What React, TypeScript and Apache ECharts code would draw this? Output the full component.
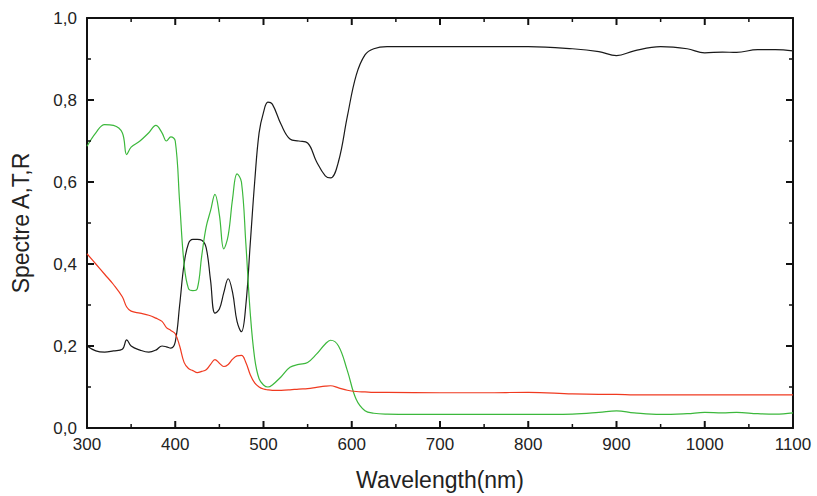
import React, { useEffect, useRef } from "react";
import * as echarts from "echarts";

const wavelengths = [300, 310, 320, 330, 340, 345, 350, 360, 370, 378, 385, 390, 395, 400, 405, 410, 415, 420, 425, 430, 435, 440, 445, 450, 455, 460, 465, 470, 475, 480, 485, 490, 495, 500, 505, 510, 520, 530, 540, 550, 560, 570, 576, 585, 595, 605, 615, 625, 640, 700, 750, 800, 850, 880, 900, 920, 950, 980, 1000, 1020, 1036, 1060, 1080, 1100];

const black = [0.2, 0.188, 0.185, 0.188, 0.192, 0.215, 0.2, 0.19, 0.185, 0.19, 0.2, 0.198, 0.195, 0.21, 0.3, 0.4, 0.45, 0.46, 0.46, 0.458, 0.44, 0.36, 0.28, 0.29, 0.33, 0.364, 0.33, 0.26, 0.235, 0.3, 0.45, 0.6, 0.72, 0.77, 0.795, 0.79, 0.74, 0.705, 0.7, 0.695, 0.65, 0.615, 0.61, 0.65, 0.76, 0.86, 0.91, 0.925, 0.93, 0.93, 0.93, 0.93, 0.925, 0.918, 0.908, 0.92, 0.93, 0.925, 0.915, 0.917, 0.916, 0.923, 0.923, 0.92];

const green = [0.687, 0.72, 0.74, 0.738, 0.72, 0.667, 0.685, 0.7, 0.72, 0.738, 0.72, 0.7, 0.71, 0.7, 0.55, 0.4, 0.34, 0.335, 0.34, 0.42, 0.49, 0.53, 0.57, 0.52, 0.437, 0.47, 0.56, 0.62, 0.6, 0.45, 0.28, 0.17, 0.12, 0.105, 0.1, 0.105, 0.125, 0.148, 0.155, 0.16, 0.18, 0.205, 0.214, 0.2, 0.14, 0.07, 0.042, 0.036, 0.034, 0.033, 0.033, 0.033, 0.034, 0.038, 0.042, 0.037, 0.033, 0.035, 0.038, 0.037, 0.038, 0.035, 0.034, 0.037];

const red = [0.425, 0.4, 0.375, 0.35, 0.32, 0.295, 0.285, 0.28, 0.275, 0.268, 0.26, 0.245, 0.238, 0.23, 0.2, 0.16, 0.145, 0.14, 0.135, 0.138, 0.142, 0.155, 0.167, 0.158, 0.15, 0.155, 0.168, 0.176, 0.177, 0.16, 0.13, 0.11, 0.1, 0.095, 0.093, 0.092, 0.092, 0.093, 0.095, 0.096, 0.099, 0.102, 0.103, 0.098, 0.092, 0.089, 0.088, 0.087, 0.087, 0.086, 0.086, 0.087, 0.083, 0.082, 0.082, 0.081, 0.081, 0.081, 0.081, 0.081, 0.081, 0.081, 0.081, 0.081];

const xTicks = [300, 400, 500, 600, 700, 800, 900, 1000, 1100];
const xMinorTicks = [350, 450, 550, 650, 750, 850, 950, 1050];
const yTicks = [0, 0.2, 0.4, 0.6, 0.8, 1.0];
const yMinorTicks = [0.1, 0.3, 0.5, 0.7, 0.9];

const pairs = (ys: number[]) => wavelengths.map((x, i) => [x, ys[i]]);

// tick items: [value, side (0 bottom, 1 top, 2 left, 3 right), major (1) / minor (0)]
const tickItems: number[][] = [];
xTicks.forEach((v) => { tickItems.push([v, 0, 1]); tickItems.push([v, 1, 1]); });
xMinorTicks.forEach((v) => { tickItems.push([v, 0, 0]); tickItems.push([v, 1, 0]); });
yTicks.forEach((v) => { tickItems.push([v, 2, 1]); tickItems.push([v, 3, 1]); });
yMinorTicks.forEach((v) => { tickItems.push([v, 2, 0]); tickItems.push([v, 3, 0]); });

const axisLine = () => ({ show: true, onZero: false, lineStyle: { color: "#111", width: 2 } });

export default function App() {
  const ref = useRef<HTMLDivElement>(null);
  useEffect(() => {
    if (!ref.current) return;
    const chart = echarts.init(ref.current, null, { renderer: "svg" });
    const font = "Liberation Sans, Arial, sans-serif";
    const xMin = xTicks[0];
    const xMax = xTicks[xTicks.length - 1];
    const yMin = yTicks[0];
    const yMax = yTicks[yTicks.length - 1];
    chart.setOption({
      animation: false,
      grid: { left: 87, right: 24, top: 18, bottom: 66 },
      xAxis: [
        {
          type: "value", min: xMin, max: xMax, interval: 100,
          axisLine: axisLine(), axisTick: { show: false }, minorTick: { show: false },
          splitLine: { show: false },
          axisLabel: { color: "#222", fontSize: 17, fontFamily: font, margin: 8, formatter: (v: number) => String(v) },
          name: "Wavelength(nm)", nameLocation: "middle", nameGap: 40,
          nameTextStyle: { color: "#222", fontSize: 23, fontFamily: font },
        },
        {
          type: "value", position: "top", min: xMin, max: xMax, interval: 100,
          axisLine: axisLine(), axisTick: { show: false }, minorTick: { show: false },
          splitLine: { show: false }, axisLabel: { show: false },
        },
      ],
      yAxis: [
        {
          type: "value", min: yMin, max: yMax, interval: 0.2,
          axisLine: axisLine(), axisTick: { show: false }, minorTick: { show: false },
          splitLine: { show: false },
          axisLabel: {
            color: "#222", fontSize: 17, fontFamily: font, margin: 10,
            formatter: (v: number) => v.toFixed(1).replace(".", ","),
          },
          name: "Spectre A,T,R", nameLocation: "middle", nameGap: 55,
          nameTextStyle: { color: "#222", fontSize: 23, fontFamily: font },
        },
        {
          type: "value", position: "right", min: yMin, max: yMax, interval: 0.2,
          axisLine: axisLine(), axisTick: { show: false }, minorTick: { show: false },
          splitLine: { show: false }, axisLabel: { show: false },
        },
      ],
      series: [
        { type: "line", data: pairs(black), smooth: 0.4, showSymbol: false, lineStyle: { color: "#1a1a1a", width: 1.2 } },
        { type: "line", data: pairs(green), smooth: 0.4, showSymbol: false, lineStyle: { color: "#3cb83c", width: 1.2 } },
        { type: "line", data: pairs(red), smooth: 0.4, showSymbol: false, lineStyle: { color: "#f03a20", width: 1.2 } },
        {
          type: "custom",
          silent: true,
          clip: false,
          z: 10,
          xAxisIndex: 0,
          yAxisIndex: 0,
          encode: { x: -1, y: -1 },
          data: tickItems,
          renderItem: (params: any, api: any) => {
            const v = api.value(0);
            const side = api.value(1);
            const major = api.value(2) === 1;
            const len = major ? 7 : 4;
            let x1 = 0, y1 = 0, x2 = 0, y2 = 0;
            if (side === 0) {
              const p = api.coord([v, yMin]);
              x1 = p[0]; y1 = p[1]; x2 = p[0]; y2 = p[1] - len;
            } else if (side === 1) {
              const p = api.coord([v, yMax]);
              x1 = p[0]; y1 = p[1]; x2 = p[0]; y2 = p[1] + len;
            } else if (side === 2) {
              const p = api.coord([xMin, v]);
              x1 = p[0]; y1 = p[1]; x2 = p[0] + len; y2 = p[1];
            } else {
              const p = api.coord([xMax, v]);
              x1 = p[0]; y1 = p[1]; x2 = p[0] - len; y2 = p[1];
            }
            return {
              type: "line",
              shape: { x1, y1, x2, y2 },
              style: { stroke: "#111", lineWidth: major ? 2 : 1.5 },
            };
          },
        },
      ],
    });
    return () => chart.dispose();
  }, []);
  return <div ref={ref} style={{ position: "fixed", left: 0, top: 0, width: 817, height: 496, background: "#fff" }} />;
}
